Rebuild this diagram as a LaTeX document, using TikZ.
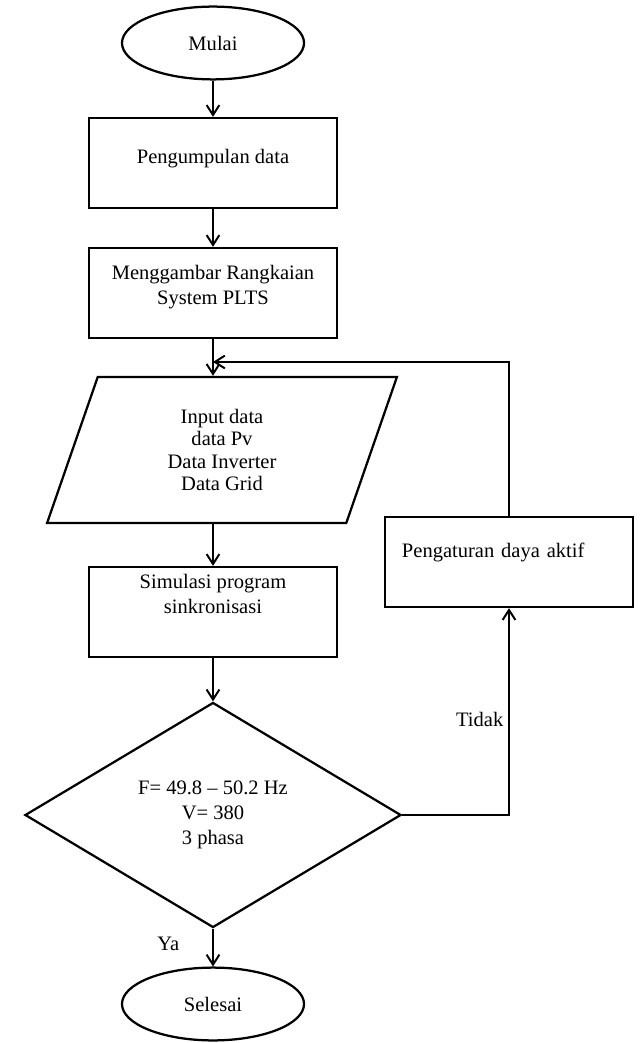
\documentclass[tikz,border=0pt]{standalone}
\usepackage{fontspec}
\setmainfont{Liberation Serif}
\usetikzlibrary{shapes.geometric,arrows.meta}

\begin{document}
\begin{tikzpicture}[x=0.025cm,y=-0.025cm,
  every node/.style={font=\fontsize{14.6}{18}\selectfont},
  proses/.style={draw,line width=1.6pt,minimum width=6.2cm,minimum height=2.25cm,align=center,inner sep=0pt},
  terminal/.style={draw,ellipse,line width=1.6pt,minimum width=4.55cm,minimum height=1.82cm,inner sep=0pt},
  masukan/.style={draw,trapezium,trapezium stretches=true,trapezium left angle=74.7,trapezium right angle=105.3,line width=1.6pt,minimum width=8.75cm,minimum height=3.65cm,align=center,inner sep=0pt,font=\fontsize{14.6}{15.8}\selectfont},
  keputusan/.style={draw,diamond,line width=1.6pt,minimum width=9.4cm,minimum height=5.625cm,align=center,inner sep=0pt},
  panah/.style={line width=1.4pt,-{Straight Barb[length=2.5mm,width=3.2mm]}}]
\useasboundingbox (0,0) rectangle (640,1043);
\node[terminal] (mulai) at (213,43) {Mulai};
\node[proses,text depth=10pt] (kumpul) at (213,163) {Pengumpulan data};
\node[proses,text depth=12pt] (gambar) at (213,293) {Menggambar Rangkaian\\System PLTS};
\node[masukan] (input) at (222,450) {Input data\\data Pv\\Data Inverter\\Data Grid};
\node[proses,text depth=26pt] (simulasi) at (213,612) {Simulasi program\\sinkronisasi};
\node[keputusan] (cek) at (213,815) {F= 49.8 -- 50.2 Hz\\V= 380\\3 phasa};
\node[terminal] (selesai) at (213,1004) {Selesai};
\node[proses,text depth=17pt,text width=5.35cm,align=left] (atur) at (509,562) {Pengaturan daya aktif};
\coordinate (balik) at (213,362);
% alur utama
\draw[panah] (mulai) -- (kumpul);
\draw[panah] (kumpul) -- (gambar);
\draw[panah] (gambar) -- (gambar.south |- input.north);
\draw[panah] (simulasi.north |- input.south) -- (simulasi);
\draw[panah] (simulasi) -- (cek);
\draw[panah] (cek) -- node[pos=0.4,left=7mm] {Ya} (selesai);
% umpan balik
\draw[panah] (cek.east) -| node[pos=0.73,left=0pt] {Tidak} (atur.south);
\draw[panah] (atur.north) |- (balik);
\end{tikzpicture}
\end{document}
